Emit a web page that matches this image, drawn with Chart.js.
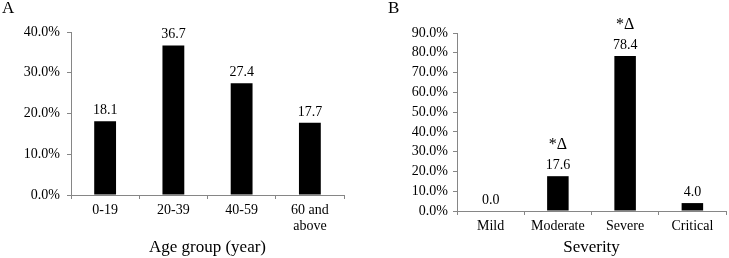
<!DOCTYPE html>
<html>
<head>
<meta charset="utf-8">
<script src="https://cdn.jsdelivr.net/npm/chart.js@4/dist/chart.umd.min.js"></script>
<style>
  html, body { margin: 0; padding: 0; background: #fff; }
  #wrap { position: relative; width: 729px; height: 258px; overflow: hidden; }
  canvas { position: absolute; top: 0; }
  #cA { left: 0; }
  #cB { left: 360px; }
  .panel { position: absolute; top: -2px; font-family: 'Liberation Serif', serif; font-size: 17px; color: #000; }
</style>
</head>
<body>
<div id="wrap">
  <canvas id="cA" width="360" height="258"></canvas>
  <canvas id="cB" width="369" height="258"></canvas>
  <div class="panel" style="left:2px">A</div>
  <div class="panel" style="left:388px">B</div>
</div>
<script>
// ---- Data ----
const ageGroups = [['0-19'], ['20-39'], ['40-59'], ['60 and', 'above']];
const ageValues = [18.1, 36.7, 27.4, 17.7];
const ageTitle = 'Age group (year)';

const severityLevels = ['Mild', 'Moderate', 'Severe', 'Critical'];
const severityValues = [0.0, 17.6, 78.4, 4.0];
const severityMarks = ['', '*\u0394', '*\u0394', ''];
const severityTitle = 'Severity';

const FONT = "'Liberation Serif', 'Times New Roman', serif";
const AXIS = '#868686';

const labelPlugin = {
  id: 'valueLabels',
  afterDatasetsDraw(chart, args, opts) {
    const ctx = chart.ctx;
    const meta = chart.getDatasetMeta(0);
    const data = chart.data.datasets[0].data;
    ctx.save();
    ctx.fillStyle = '#000';
    ctx.textAlign = 'center';
    ctx.textBaseline = 'middle';
    meta.data.forEach((bar, i) => {
      ctx.font = '14px ' + FONT;
      ctx.fillText(data[i].toFixed(1), bar.x, bar.y - 11);
      const m = (opts.marks || [])[i];
      if (m) {
        ctx.font = '16px ' + FONT;
        ctx.fillText(m, bar.x, bar.y - 31);
      }
    });
    ctx.restore();
  }
};

function makeChart(id, labels, values, maxY, title, cfg) {
  return new Chart(document.getElementById(id), {
    type: 'bar',
    data: {
      labels: labels,
      datasets: [{
        data: values,
        backgroundColor: '#000',
        borderWidth: 0,
        categoryPercentage: 1.0,
        barPercentage: 0.32
      }]
    },
    plugins: [labelPlugin],
    options: {
      responsive: false,
      animation: false,
      events: [],
      layout: { padding: { left: 0, top: cfg.top, right: cfg.right, bottom: 0 } },
      plugins: {
        legend: { display: false },
        tooltip: { enabled: false },
        valueLabels: { marks: cfg.marks }
      },
      scales: {
        x: {
          grid: { display: true, drawOnChartArea: false, drawTicks: true, tickLength: 4, color: AXIS, offset: true },
          border: { display: true, color: AXIS, width: 1 },
          ticks: { color: '#000', padding: 4, font: { family: FONT, size: 14, lineHeight: 1.1 }, maxRotation: 0, autoSkip: false },
          title: { display: true, text: title, color: '#000', font: { family: FONT, size: 17, lineHeight: 1.2 }, padding: { top: 0, bottom: 0 } },
          afterFit(scale) { scale.height = cfg.xh; }
        },
        y: {
          min: 0, max: maxY,
          grid: { display: true, drawOnChartArea: false, drawTicks: true, tickLength: 4, color: AXIS },
          border: { display: true, color: AXIS, width: 1 },
          ticks: { stepSize: 10, autoSkip: false, color: '#000', padding: cfg.ypad, font: { family: FONT, size: 14 },
                   callback: v => v.toFixed(1) + '%' },
          afterFit(scale) { scale.width = cfg.yw; }
        }
      }
    }
  });
}

makeChart('cA', ageGroups, ageValues, 40, ageTitle, { top: 32, right: 16, xh: 63, yw: 71, ypad: 7, marks: [] });
makeChart('cB', severityLevels, severityValues, 90, severityTitle, { top: 33, right: 3, xh: 47, yw: 97, ypad: 5, marks: severityMarks });
</script>
</body>
</html>
